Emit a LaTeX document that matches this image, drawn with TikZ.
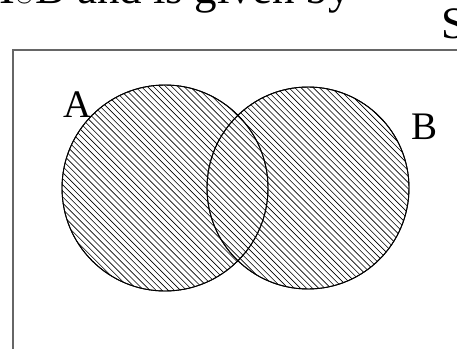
\documentclass[tikz,border=0pt]{standalone}
\usepackage{fontspec}
\setmainfont{Liberation Serif}
\tikzset{
  setcircle/.style={circle, draw=black, line width=0.9pt, inner sep=0pt},
  hatchline/.style={black, line width=0.6pt},
  biglabel/.style={inner sep=0pt, font=\fontsize{39}{45}\selectfont},
}
\begin{document}
\begin{tikzpicture}[x=1pt,y=-1pt]
\useasboundingbox (0,0) rectangle (457,348);
\draw[line width=1.3pt, black!60] (13,50) rectangle (480,370);
\node[setcircle, minimum size=206pt] (A) at (165,188) {};
\node[setcircle, minimum size=202pt] (B) at (308,188) {};
\begin{scope}
  \clip (A.center) circle[radius=103pt];
  \foreach \c in {-300,-293.9,...,460} \draw[hatchline] (\c,60) -- (\c+250,310);
\end{scope}
\begin{scope}[even odd rule]
  \clip (B.center) circle[radius=101pt];
  \clip (A.center) circle[radius=103pt] (-50,-50) rectangle (600,500);
  \foreach \c in {-300,-293.9,...,460} \draw[hatchline] (\c,60) -- (\c+250,310);
\end{scope}
\draw[line width=0.9pt] (A.center) circle[radius=103pt];
\draw[line width=0.9pt] (B.center) circle[radius=101pt];
\node[biglabel] (la) at (78,105) {A};
\node[biglabel] (lb) at (424,127) {B};
\node[biglabel, font=\fontsize{45}{50}\selectfont, anchor=west] (ls) at (441,24) {S};
\node[biglabel, font=\fontsize{45}{50}\selectfont, anchor=base east] (top) at (351,3) {A\kern2pt{\fontsize{30}{30}\selectfont$\cup$}\kern3pt B and is given by};
\end{tikzpicture}
\end{document}
